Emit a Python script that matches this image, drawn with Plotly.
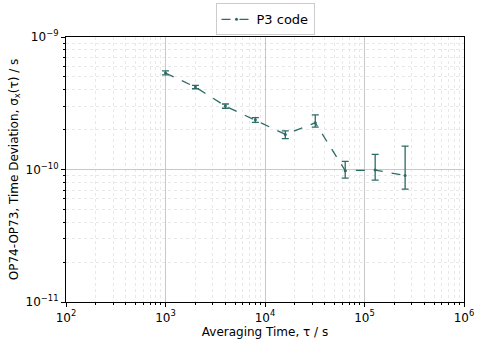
import plotly.graph_objects as go

tau = [1000, 2000, 4000, 8000, 16000, 32000, 64000, 128000, 256000]
tdev = [5.35e-10, 4.19e-10, 3.01e-10, 2.37e-10, 1.84e-10, 2.25e-10, 9.8e-11, 9.9e-11, 9.0e-11]
err_hi = [5.55e-10, 4.32e-10, 3.12e-10, 2.46e-10, 1.96e-10, 2.58e-10, 1.15e-10, 1.30e-10, 1.50e-10]
err_lo = [5.17e-10, 4.07e-10, 2.90e-10, 2.27e-10, 1.71e-10, 2.09e-10, 8.6e-11, 8.3e-11, 7.1e-11]

color = "#2e6b66"

fig = go.Figure()
fig.add_trace(go.Scatter(
    x=tau, y=tdev, mode="lines+markers", name="P3 code",
    line=dict(color=color, width=1.3, dash="dash"),
    marker=dict(color=color, size=3),
    error_y=dict(type="data", symmetric=False,
                 array=[h - v for h, v in zip(err_hi, tdev)],
                 arrayminus=[v - l for l, v in zip(err_lo, tdev)],
                 color=color, thickness=1.3, width=3.5),
))

xt = [1e2, 1e3, 1e4, 1e5, 1e6]
xl = ["10<sup>2</sup>", "10<sup>3</sup>", "10<sup>4</sup>", "10<sup>5</sup>", "10<sup>6</sup>"]
yt = [1e-11, 1e-10, 1e-9]
yl = ["10<sup>−11</sup>", "10<sup>−10</sup>", "10<sup>−9</sup>"]

x_minor = [m * d for d in xt[:-1] for m in range(2, 10)]
y_minor = [m * d for d in yt[:-1] for m in range(2, 10)]


def axis_common(minor_vals):
    return dict(
        showline=True, linecolor="black", linewidth=1.2, mirror=True,
        ticks="outside", ticklen=4, tickcolor="black",
        showgrid=True, gridcolor="#c8c8c8", gridwidth=1,
        zeroline=False, automargin=False,
        minor=dict(tickmode="array", tickvals=minor_vals, showgrid=True,
                   gridcolor="#e8e8e8", griddash="dot",
                   ticks="outside", ticklen=2, tickcolor="black"),
        tickfont=dict(size=12, color="black"),
    )


fig.update_xaxes(type="log", range=[2, 6], tickvals=xt, ticktext=xl,
                 title=dict(text="Averaging Time, τ / s", font=dict(size=12, color="black"), standoff=6),
                 **axis_common(x_minor))
fig.update_yaxes(type="log", range=[-11, -9], tickvals=yt, ticktext=yl,
                 title=dict(text="OP74-OP73, Time Deviation, σ<sub>x</sub>(τ) / s", font=dict(size=12, color="black"), standoff=4),
                 **axis_common(y_minor))

fig.update_layout(
    width=480, height=339,
    margin=dict(l=66, r=16, t=37, b=37),
    paper_bgcolor="white", plot_bgcolor="white",
    font=dict(family="DejaVu Sans", size=12, color="black"),
    showlegend=True,
    legend=dict(x=0.5, xanchor="center", yref="container", y=0.99, yanchor="top",
                bordercolor="#cccccc", borderwidth=1, font=dict(size=13),
                bgcolor="white"),
)

fig.write_html("out.html")
